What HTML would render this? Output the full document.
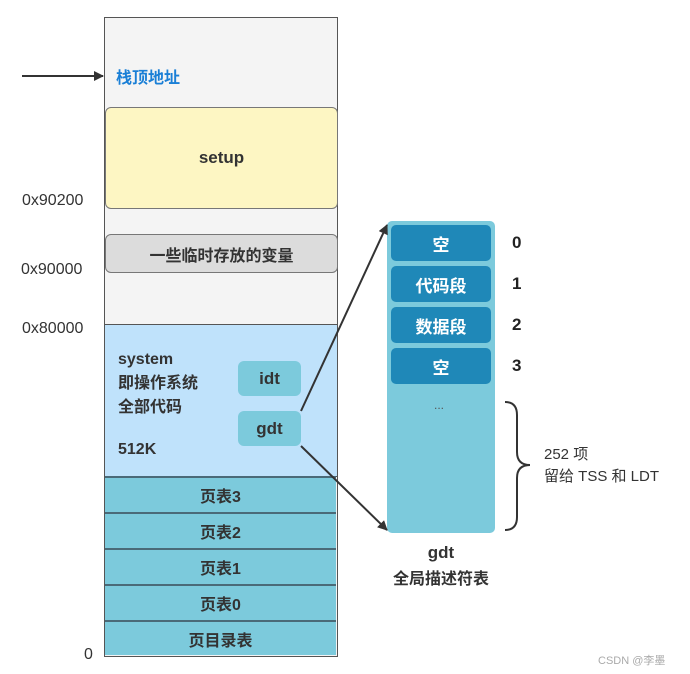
<!DOCTYPE html>
<html><head><meta charset="utf-8"><style>
body{margin:0;background:#fff;width:690px;height:674px;overflow:hidden;position:relative;font-family:"Liberation Sans","Noto Sans CJK SC",sans-serif}
.a{position:absolute;box-sizing:border-box}
.c{display:flex;align-items:center;justify-content:center;font-weight:bold}
.lbl{position:absolute;font-size:16px;color:#333}
.pt{background:#7ccadc;border-top:2px solid #4a6a78;font-size:16px;color:#333}
.g{background:#1f88b8;border-radius:5px;color:#fff;font-size:17px}
</style></head><body>
<div class="a" style="left:104px;top:17px;width:234px;height:640px;background:#f4f4f4;border:1.5px solid #555"></div>
<div class="a" style="left:116px;top:64px;color:#1a7fd6;font-weight:bold;font-size:16px">栈顶地址</div>
<div class="a c" style="left:105px;top:107px;width:233px;height:102px;background:#fdf6c3;border:1.5px solid #777;border-radius:6px;font-size:17px;color:#333">setup</div>
<div class="a c" style="left:105px;top:234px;width:233px;height:39px;background:#dcdcdc;border:1.5px solid #777;border-radius:6px;font-size:16px;color:#333">一些临时存放的变量</div>
<div class="a" style="left:104px;top:324px;width:234px;height:153px;background:#bfe2fb;border:1.5px solid #555"></div>
<div class="a" style="left:118px;top:348px;font-weight:bold;font-size:16px;color:#333;line-height:24px">system<br>即操作系统<br>全部代码</div>
<div class="a" style="left:118px;top:441px;font-weight:bold;font-size:16px;color:#333">512K</div>
<div class="a c" style="left:238px;top:361px;width:63px;height:35px;background:#7ccadc;border-radius:6px;font-size:17px;color:#333">idt</div>
<div class="a c" style="left:238px;top:411px;width:63px;height:35px;background:#7ccadc;border-radius:6px;font-size:17px;color:#333">gdt</div>
<div class="a" style="left:104px;top:476px;width:234px;height:181px;border:1.5px solid #555;border-top:none">
<div class="a c pt" style="left:0;top:0;width:231px;height:36px">页表3</div>
<div class="a c pt" style="left:0;top:36px;width:231px;height:36px">页表2</div>
<div class="a c pt" style="left:0;top:72px;width:231px;height:36px">页表1</div>
<div class="a c pt" style="left:0;top:108px;width:231px;height:36px">页表0</div>
<div class="a c pt" style="left:0;top:144px;width:231px;height:35px">页目录表</div>
</div>
<div class="lbl" style="left:22px;top:192px">0x90200</div>
<div class="lbl" style="left:21px;top:261px">0x90000</div>
<div class="lbl" style="left:22px;top:320px">0x80000</div>
<div class="lbl" style="left:84px;top:646px">0</div>
<div class="a" style="left:387px;top:221px;width:108px;height:312px;background:#7ccadc;border-radius:5px"></div>
<div class="a c g" style="left:391px;top:225px;width:100px;height:36px">空</div>
<div class="a c g" style="left:391px;top:266px;width:100px;height:36px">代码段</div>
<div class="a c g" style="left:391px;top:307px;width:100px;height:36px">数据段</div>
<div class="a c g" style="left:391px;top:348px;width:100px;height:36px">空</div>
<div class="a" style="left:434px;top:398px;font-size:12px;color:#555">...</div>
<div class="a" style="left:512px;top:233px;font-weight:bold;font-size:17px;color:#222">0</div>
<div class="a" style="left:512px;top:274px;font-weight:bold;font-size:17px;color:#222">1</div>
<div class="a" style="left:512px;top:315px;font-weight:bold;font-size:17px;color:#222">2</div>
<div class="a" style="left:512px;top:356px;font-weight:bold;font-size:17px;color:#222">3</div>
<div class="a" style="left:544px;top:444px;font-size:15px;color:#333;line-height:22px">252 项<br>留给 TSS 和 LDT</div>
<div class="a" style="left:387px;top:540px;width:108px;text-align:center;font-weight:bold;font-size:17px;color:#333;line-height:26px">gdt<br><span style="font-size:16px">全局描述符表</span></div>
<div class="a" style="left:598px;top:652px;font-size:11px;color:#aaa">CSDN @李墨</div>
<svg class="a" style="left:0;top:0" width="690" height="674">
<defs><marker id="m" markerWidth="10" markerHeight="10" refX="9" refY="5" orient="auto" markerUnits="userSpaceOnUse"><path d="M0,0L10,5L0,10z" fill="#333"/></marker></defs>
<line x1="22" y1="76" x2="103" y2="76" stroke="#333" stroke-width="2" marker-end="url(#m)"/>
<line x1="301" y1="411" x2="387" y2="225" stroke="#333" stroke-width="2" marker-end="url(#m)"/>
<line x1="301" y1="446" x2="387" y2="530" stroke="#333" stroke-width="2" marker-end="url(#m)"/>
<path d="M505,402 Q517,402 517,415 L517,452 Q517,465 530,465 Q517,465 517,478 L517,517 Q517,530 505,530" fill="none" stroke="#333" stroke-width="2"/>
</svg>
</body></html>
